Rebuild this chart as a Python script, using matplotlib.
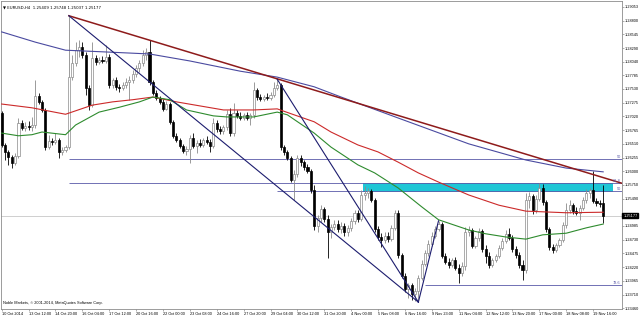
import matplotlib
matplotlib.use("Agg")
import matplotlib.pyplot as plt
import matplotlib.transforms as mtransforms
from matplotlib.patches import Rectangle

plt.rcParams["font.family"] = ["Liberation Sans", "DejaVu Sans"]

# EURUSD H4 bars, 10 Oct - 20 Nov 2014
opens = [
    1.2708, 1.2649, 1.2636, 1.2627, 1.2615, 1.2628, 1.2690, 1.2680, 1.2684, 1.2682,
    1.2686, 1.2740, 1.2729, 1.2714, 1.2645, 1.2656, 1.2654, 1.2658, 1.2636, 1.2640,
    1.2645, 1.2775, 1.2801, 1.2825, 1.2831, 1.2816, 1.2755, 1.2723, 1.2811, 1.2803,
    1.2807, 1.2805, 1.2812, 1.2760, 1.2770, 1.2757, 1.2755, 1.2760, 1.2766, 1.2770,
    1.2781, 1.2792, 1.2801, 1.2816, 1.2822, 1.2766, 1.2745, 1.2736, 1.2729, 1.2716,
    1.2725, 1.2692, 1.2666, 1.2658, 1.2647, 1.2638, 1.2642, 1.2662, 1.2647, 1.2653,
    1.2649, 1.2658, 1.2654, 1.2647, 1.2690, 1.2678, 1.2675, 1.2682, 1.2706, 1.2671,
    1.2708, 1.2703, 1.2699, 1.2705, 1.2699, 1.2705, 1.2751, 1.2738, 1.2734, 1.2738,
    1.2736, 1.2742, 1.2755, 1.2760, 1.2645, 1.2636, 1.2625, 1.2584, 1.2595, 1.2625,
    1.2617, 1.2608, 1.2601, 1.2565, 1.2498, 1.2513, 1.2530, 1.2511, 1.2487, 1.2496,
    1.2502, 1.2493, 1.2498, 1.2487, 1.2495, 1.2508, 1.2523, 1.2511, 1.2556, 1.2560,
    1.2563, 1.2547, 1.2493, 1.2478, 1.2472, 1.2480, 1.2474, 1.2495, 1.2523, 1.2445,
    1.2405, 1.2381, 1.2389, 1.2372, 1.2378, 1.2402, 1.2428, 1.2448, 1.2465, 1.2480,
    1.2493, 1.2502, 1.2443, 1.2431, 1.2426, 1.2435, 1.2421, 1.2411, 1.2424, 1.2487,
    1.2491, 1.2461, 1.2476, 1.2489, 1.2456, 1.2443, 1.2426, 1.2435, 1.2443, 1.2457,
    1.2471, 1.2484, 1.2476, 1.2456, 1.2445, 1.2426, 1.2417, 1.2547, 1.2554, 1.2528,
    1.2549, 1.2569, 1.2543, 1.2493, 1.2459, 1.2454, 1.2463, 1.2472, 1.2500, 1.2528,
    1.2537, 1.2526, 1.2523, 1.2532, 1.2547, 1.2560, 1.2565, 1.2545, 1.2541, 1.25409,
]
highs = [
    1.2712, 1.2653, 1.2640, 1.2630, 1.2634, 1.2699, 1.2695, 1.2692, 1.2693, 1.2701,
    1.2770, 1.2745, 1.2733, 1.2718, 1.2668, 1.2662, 1.2671, 1.2662, 1.2645, 1.2649,
    1.2889, 1.2816, 1.2840, 1.2844, 1.2840, 1.2822, 1.2760, 1.2840, 1.2816, 1.2812,
    1.2814, 1.2835, 1.2818, 1.2773, 1.2775, 1.2762, 1.2766, 1.2773, 1.2777, 1.2788,
    1.2798, 1.2807, 1.2825, 1.2829, 1.2844, 1.2770, 1.2751, 1.2740, 1.2734, 1.2731,
    1.2729, 1.2695, 1.2671, 1.2662, 1.2651, 1.2647, 1.2668, 1.2671, 1.2658, 1.2660,
    1.2662, 1.2666, 1.2660, 1.2699, 1.2695, 1.2684, 1.2686, 1.2714, 1.2718, 1.2727,
    1.2714, 1.2710, 1.2708, 1.2710, 1.2708, 1.2766, 1.2755, 1.2744, 1.2742, 1.2745,
    1.2747, 1.2766, 1.2771, 1.2764, 1.2649, 1.2640, 1.2628, 1.2602, 1.2630, 1.2630,
    1.2621, 1.2614, 1.2604, 1.2575, 1.2519, 1.2537, 1.2534, 1.2519, 1.2502, 1.2510,
    1.2510, 1.2506, 1.2504, 1.2500, 1.2513, 1.2528, 1.2528, 1.2565, 1.2573, 1.2569,
    1.2567, 1.2550, 1.2498, 1.2485, 1.2487, 1.2487, 1.2500, 1.2528, 1.2528, 1.2448,
    1.2411, 1.2392, 1.2392, 1.2383, 1.2407, 1.2435, 1.2454, 1.2472, 1.2487, 1.2498,
    1.2508, 1.2506, 1.2448, 1.2439, 1.2439, 1.2441, 1.2428, 1.2431, 1.2496, 1.2498,
    1.2495, 1.2480, 1.2495, 1.2493, 1.2463, 1.2450, 1.2439, 1.2446, 1.2463, 1.2476,
    1.2491, 1.2495, 1.2482, 1.2461, 1.2450, 1.2435, 1.2560, 1.2562, 1.2558, 1.2556,
    1.2578, 1.2576, 1.2547, 1.2496, 1.2465, 1.2467, 1.2476, 1.2506, 1.2541, 1.2547,
    1.2541, 1.2534, 1.2537, 1.2552, 1.2567, 1.2569, 1.2601, 1.2550, 1.2547, 1.25748,
]
lows = [
    1.2645, 1.2621, 1.2612, 1.2606, 1.2612, 1.2625, 1.2677, 1.2675, 1.2677, 1.2675,
    1.2680, 1.2725, 1.2710, 1.2640, 1.2642, 1.2649, 1.2651, 1.2625, 1.2630, 1.2636,
    1.2642, 1.2770, 1.2796, 1.2812, 1.2811, 1.2742, 1.2714, 1.2719, 1.2798, 1.2799,
    1.2801, 1.2801, 1.2755, 1.2755, 1.2751, 1.2747, 1.2751, 1.2755, 1.2733, 1.2764,
    1.2775, 1.2784, 1.2796, 1.2807, 1.2760, 1.2742, 1.2733, 1.2725, 1.2712, 1.2714,
    1.2688, 1.2662, 1.2654, 1.2643, 1.2634, 1.2630, 1.2615, 1.2643, 1.2634, 1.2645,
    1.2645, 1.2651, 1.2636, 1.2643, 1.2673, 1.2669, 1.2669, 1.2677, 1.2666, 1.2666,
    1.2699, 1.2695, 1.2695, 1.2695, 1.2686, 1.2699, 1.2733, 1.2731, 1.2731, 1.2733,
    1.2733, 1.2738, 1.2751, 1.2640, 1.2630, 1.2621, 1.2580, 1.2547, 1.2589, 1.2610,
    1.2602, 1.2597, 1.2560, 1.2491, 1.2487, 1.2506, 1.2506, 1.2439, 1.2476, 1.2491,
    1.2487, 1.2485, 1.2480, 1.2480, 1.2489, 1.2502, 1.2506, 1.2508, 1.2547, 1.2550,
    1.2543, 1.2487, 1.2472, 1.2459, 1.2467, 1.2469, 1.2471, 1.2491, 1.2439, 1.2402,
    1.2376, 1.2365, 1.2361, 1.2359, 1.2357, 1.2398, 1.2424, 1.2443, 1.2461, 1.2476,
    1.2489, 1.2439, 1.2428, 1.2421, 1.2422, 1.2417, 1.2392, 1.2405, 1.2417, 1.2480,
    1.2457, 1.2457, 1.2471, 1.2450, 1.2430, 1.2421, 1.2422, 1.2431, 1.2439, 1.2454,
    1.2467, 1.2472, 1.2450, 1.2439, 1.2421, 1.2398, 1.2411, 1.2532, 1.2521, 1.2523,
    1.2545, 1.2537, 1.2487, 1.2454, 1.2448, 1.2450, 1.2459, 1.2469, 1.2495, 1.2523,
    1.2521, 1.2519, 1.2510, 1.2528, 1.2541, 1.2550, 1.2541, 1.2536, 1.2534, 1.25037,
]
closes = [
    1.2649, 1.2636, 1.2627, 1.2615, 1.2628, 1.2690, 1.2680, 1.2684, 1.2682, 1.2686,
    1.2740, 1.2729, 1.2714, 1.2645, 1.2656, 1.2654, 1.2658, 1.2636, 1.2640, 1.2645,
    1.2775, 1.2801, 1.2825, 1.2831, 1.2816, 1.2755, 1.2723, 1.2811, 1.2803, 1.2807,
    1.2805, 1.2812, 1.2760, 1.2770, 1.2757, 1.2755, 1.2760, 1.2766, 1.2770, 1.2781,
    1.2792, 1.2801, 1.2816, 1.2822, 1.2766, 1.2745, 1.2736, 1.2729, 1.2716, 1.2725,
    1.2692, 1.2666, 1.2658, 1.2647, 1.2638, 1.2642, 1.2662, 1.2647, 1.2653, 1.2649,
    1.2658, 1.2654, 1.2647, 1.2690, 1.2678, 1.2675, 1.2682, 1.2706, 1.2671, 1.2708,
    1.2703, 1.2699, 1.2705, 1.2699, 1.2705, 1.2751, 1.2738, 1.2734, 1.2738, 1.2736,
    1.2742, 1.2755, 1.2760, 1.2645, 1.2636, 1.2625, 1.2584, 1.2595, 1.2625, 1.2617,
    1.2608, 1.2601, 1.2565, 1.2498, 1.2513, 1.2530, 1.2511, 1.2487, 1.2496, 1.2502,
    1.2493, 1.2498, 1.2487, 1.2495, 1.2508, 1.2523, 1.2511, 1.2556, 1.2560, 1.2563,
    1.2547, 1.2493, 1.2478, 1.2472, 1.2480, 1.2474, 1.2495, 1.2523, 1.2445, 1.2405,
    1.2381, 1.2389, 1.2372, 1.2378, 1.2402, 1.2428, 1.2448, 1.2465, 1.2480, 1.2493,
    1.2502, 1.2443, 1.2431, 1.2426, 1.2435, 1.2421, 1.2411, 1.2424, 1.2487, 1.2491,
    1.2461, 1.2476, 1.2489, 1.2456, 1.2443, 1.2426, 1.2435, 1.2443, 1.2457, 1.2471,
    1.2484, 1.2476, 1.2456, 1.2445, 1.2426, 1.2417, 1.2547, 1.2554, 1.2528, 1.2549,
    1.2569, 1.2543, 1.2493, 1.2459, 1.2454, 1.2463, 1.2472, 1.2500, 1.2528, 1.2537,
    1.2526, 1.2523, 1.2532, 1.2547, 1.2560, 1.2565, 1.2545, 1.2541, 1.2540, 1.25177,
]

# time axis labels, one every 8 bars
date_ticks = list(range(0, 177, 8))
date_labels = [
    "10 Oct 2014", "13 Oct 12:00", "14 Oct 20:00", "16 Oct 04:00", "17 Oct 12:00",
    "20 Oct 16:00", "22 Oct 00:00", "23 Oct 08:00", "24 Oct 16:00", "27 Oct 20:00",
    "29 Oct 04:00", "30 Oct 12:00", "31 Oct 20:00", "4 Nov 00:00", "5 Nov 08:00",
    "6 Nov 16:00", "9 Nov 23:00", "11 Nov 04:00", "12 Nov 12:00", "13 Nov 20:00",
    "17 Nov 00:00", "18 Nov 08:00", "19 Nov 16:00",
]
price_ticks = [
    1.29053, 1.28800, 1.28545, 1.28290, 1.28040, 1.27785, 1.27530, 1.27275,
    1.27020, 1.26765, 1.26510, 1.26255, 1.26000, 1.25750, 1.25490, 1.24985,
    1.24730, 1.24475, 1.24220, 1.23965, 1.23710, 1.23460,
]

# moving averages (sampled along the curves)
blue_ma_x = [0, 10, 19, 30, 44, 56, 71, 82, 93, 101, 118, 139, 156, 168, 179]
blue_ma_y = [1.2859, 1.2840, 1.2825, 1.2822, 1.2818, 1.2805, 1.2786, 1.2775,
             1.2757, 1.2738, 1.2699, 1.2651, 1.2621, 1.2606, 1.2599]
red_ma_x = [0, 9, 19, 27, 33, 39, 45, 52, 66, 75, 82, 87, 93, 98, 106, 112,
            118, 124, 130, 139, 148, 156, 168, 179]
red_ma_y = [1.2725, 1.2718, 1.2706, 1.2723, 1.2729, 1.2733, 1.2738, 1.2729,
            1.2714, 1.2714, 1.2716, 1.2705, 1.2692, 1.2673, 1.2649, 1.2636,
            1.2617, 1.2597, 1.2580, 1.2556, 1.2537, 1.2526, 1.2523, 1.2524]
green_ma_x = [0, 5, 9, 12, 19, 22, 29, 35, 41, 45, 50, 55, 63, 67, 75, 82, 85,
              93, 98, 106, 111, 118, 125, 130, 139, 144, 150, 156, 161, 168, 174, 179]
green_ma_y = [1.2671, 1.2666, 1.2668, 1.2673, 1.2668, 1.2686, 1.2710, 1.2719,
              1.2729, 1.2738, 1.2733, 1.2714, 1.2703, 1.2701, 1.2701, 1.2710,
              1.2705, 1.2671, 1.2645, 1.2612, 1.2597, 1.2569, 1.2534, 1.2510,
              1.2491, 1.2484, 1.2478, 1.2474, 1.2482, 1.2485, 1.2495, 1.2502]

# drawn objects
red_trend_x = [20, 185]
red_trend_y = [1.2889, 1.2577]
navy_lines = [
    ([20, 124], [1.2889, 1.2357]),
    ([82, 124], [1.2771, 1.2357]),
    ([124, 130], [1.2357, 1.2508]),
]
fib_levels = [1.2623, 1.2578, 1.2563, 1.2389]
fib_starts = [20, 20, 82, 126]
fib_labels = ["50", "61.8", "50", "78.6"]
zone_x = [107.5, 182]
zone_y = [1.2562, 1.2578]
last_price = 1.25177

FS = 2.8
x_lo, x_hi = -0.2, 184.6
y_lo, y_hi = 1.23442, 1.29164

fig = plt.figure(figsize=(6.4, 3.18), dpi=100)
ax = fig.add_axes([1 / 640, 9 / 318, 621 / 640, 308 / 318])
ax.set_xlim(x_lo, x_hi)
ax.set_ylim(y_lo, y_hi)

# zone + horizontal levels
ax.add_patch(Rectangle((zone_x[0], zone_y[0]), zone_x[1] - zone_x[0],
                       zone_y[1] - zone_y[0], facecolor="#1ec6d6",
                       edgecolor="none", zorder=1))
for lvl, start, lab in zip(fib_levels, fib_starts, fib_labels):
    ax.hlines(lvl, start, x_hi, color="#5a5aa8", lw=0.6, zorder=2)
    ax.text(x_hi - 0.4, lvl, lab, fontsize=FS, color="#5a5aa8",
            ha="right", va="bottom", zorder=6)

ax.axhline(last_price, color="#c8c8c8", lw=0.6, zorder=1)

# candles
for i, (o, h, l, c) in enumerate(zip(opens, highs, lows, closes)):
    bull = c >= o
    wick = "#8a8a8a" if bull else "black"
    ax.vlines(i, l, h, color=wick, lw=0.6, zorder=3)
    ax.bar(i, max(abs(c - o), 0.00002), bottom=min(o, c), width=0.62,
           color="white" if bull else "black",
           edgecolor="#8a8a8a" if bull else "black", lw=0.5, zorder=4)

# moving averages
ax.plot(blue_ma_x, blue_ma_y, color="#4a4aa0", lw=0.8, zorder=5)
ax.plot(red_ma_x, red_ma_y, color="#cc2a2a", lw=0.8, zorder=5)
ax.plot(green_ma_x, green_ma_y, color="#2e8b2e", lw=0.8, zorder=5)

# trend lines
ax.plot(red_trend_x, red_trend_y, color="#8e1b1b", lw=1.1, zorder=5)
for xs, ys in navy_lines:
    ax.plot(xs, ys, color="#1c1c6e", lw=0.8, zorder=5)

# axes styling
for sp in ax.spines.values():
    sp.set_color("#8c8c8c")
    sp.set_linewidth(0.6)
ax.yaxis.tick_right()
ax.set_yticks(price_ticks)
ax.set_yticklabels([f"{p:.5f}" for p in price_ticks])
ax.set_xticks(date_ticks)
ax.set_xticklabels(date_labels, ha="left")
ax.tick_params(axis="both", labelsize=FS, length=1.5, width=0.5,
               color="#8c8c8c", pad=0.6)

trans = mtransforms.blended_transform_factory(ax.transAxes, ax.transData)
ax.text(1.002, last_price, f"{last_price:.5f}", transform=trans, fontsize=FS,
        color="white", ha="left", va="center", clip_on=False, zorder=7,
        bbox=dict(boxstyle="square,pad=0.2", fc="black", ec="black"))

ax.text(0.004, 0.985, "\u25BC EURUSD,H4  1.25409 1.25748 1.25037 1.25177",
        transform=ax.transAxes, fontsize=FS, ha="left", va="top",
        family=["DejaVu Sans"])
ax.text(0.004, 0.012, "Noble Markets, \u00a9 2001-2014, MetaQuotes Software Corp.",
        transform=ax.transAxes, fontsize=FS, ha="left", va="bottom")

fig.savefig("out.png", dpi=100, facecolor="white")
